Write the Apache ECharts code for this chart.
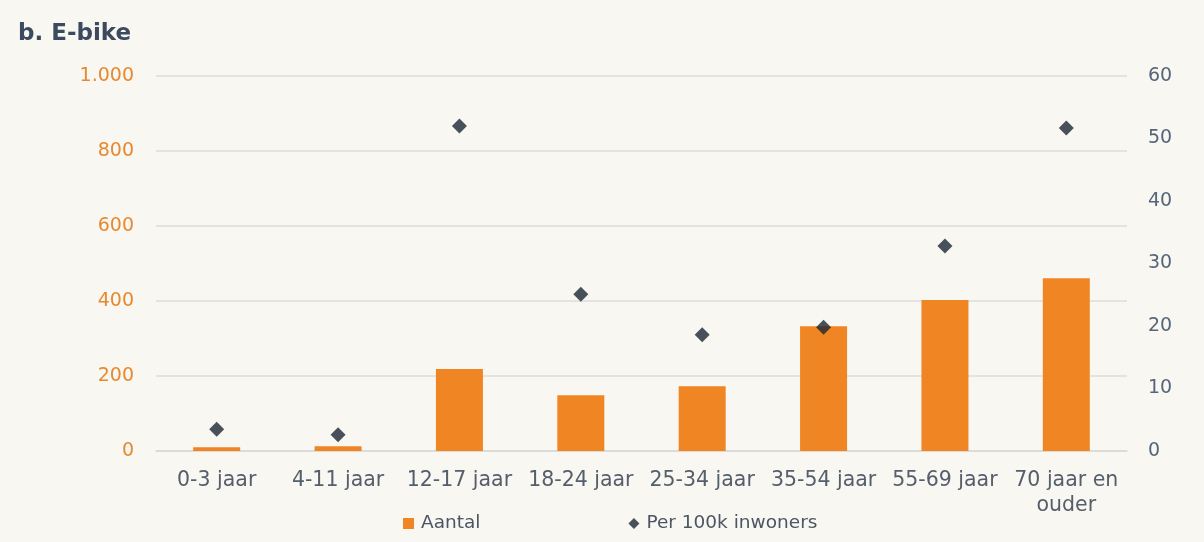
<!DOCTYPE html>
<html>
<head>
<meta charset="utf-8">
<script src="https://cdn.jsdelivr.net/npm/echarts@6/dist/echarts.min.js"></script>
<style>
  html, body { margin: 0; padding: 0; background: #f8f7f2; }
  #chart { width: 1204px; height: 542px; }
</style>
</head>
<body>
<div id="chart"></div>
<script>
// Leeftijdsgroepen
const categories = ['0-3 jaar', '4-11 jaar', '12-17 jaar', '18-24 jaar', '25-34 jaar', '35-54 jaar', '55-69 jaar', '70 jaar en\nouder'];
// Aantal slachtoffers (linker as)
const aantal = [10, 13, 219, 149, 173, 333, 403, 461];
// Per 100k inwoners (rechter as)
const per100k = [3.5, 2.6, 52, 25.1, 18.6, 19.8, 32.8, 51.7];
// As-ticks
const leftTicks = [0, 200, 400, 600, 800, 1000];
const rightTicks = [0, 10, 20, 30, 40, 50, 60];

const font = "'DejaVu Sans', Verdana, sans-serif";
const orange = '#f08523';
const navy = '#1b2532';

const chart = echarts.init(document.getElementById('chart'), null, { renderer: 'canvas' });
chart.setOption({
  backgroundColor: '#f8f7f2',
  animation: false,
  title: {
    text: 'b. E-bike',
    left: 13, top: 18,
    textStyle: { fontFamily: font, fontSize: 23, fontWeight: 'bold', color: '#3b4a5e' }
  },
  legend: {
    left: 398, top: 509,
    itemGap: 148,
    itemWidth: 11, itemHeight: 11,
    textStyle: { fontFamily: font, fontSize: 18.5, color: '#4b5563', padding: [0, 0, 0, 2] },
    data: [
      { name: 'Aantal', icon: 'rect' },
      { name: 'Per 100k inwoners', icon: 'diamond', itemStyle: { color: navy } }
    ]
  },
  grid: { left: 156, right: 77, top: 76, bottom: 91 },
  xAxis: {
    type: 'category',
    data: categories,
    axisLine: { lineStyle: { color: '#d9d9d9', width: 1.5 } },
    axisTick: { show: false },
    axisLabel: { fontFamily: font, fontSize: 20.5, color: '#555e6b', interval: 0, margin: 17, lineHeight: 25 }
  },
  yAxis: [
    {
      type: 'value', min: leftTicks[0], max: leftTicks[leftTicks.length - 1], interval: 200,
      axisLine: { show: false }, axisTick: { show: false },
      splitLine: { lineStyle: { color: '#dcdcd8', width: 1.5 } },
      axisLabel: {
        fontFamily: font, fontSize: 19, color: '#e8892f', margin: 22,
        formatter: v => v >= 1000 ? v.toString().replace(/\B(?=(\d{3})+(?!\d))/g, '.') : String(v)
      }
    },
    {
      type: 'value', min: rightTicks[0], max: rightTicks[rightTicks.length - 1], interval: 10,
      position: 'right',
      axisLine: { show: false }, axisTick: { show: false },
      splitLine: { show: false },
      axisLabel: { fontFamily: font, fontSize: 19, color: '#56667a', margin: 21 }
    }
  ],
  series: [
    {
      name: 'Aantal', type: 'bar', yAxisIndex: 0,
      data: aantal, barWidth: 47,
      itemStyle: { color: orange }
    },
    {
      name: 'Per 100k inwoners', type: 'scatter', yAxisIndex: 1,
      data: per100k, symbol: 'diamond', symbolSize: 15,
      itemStyle: { color: navy }
    }
  ]
});
</script>
</body>
</html>
